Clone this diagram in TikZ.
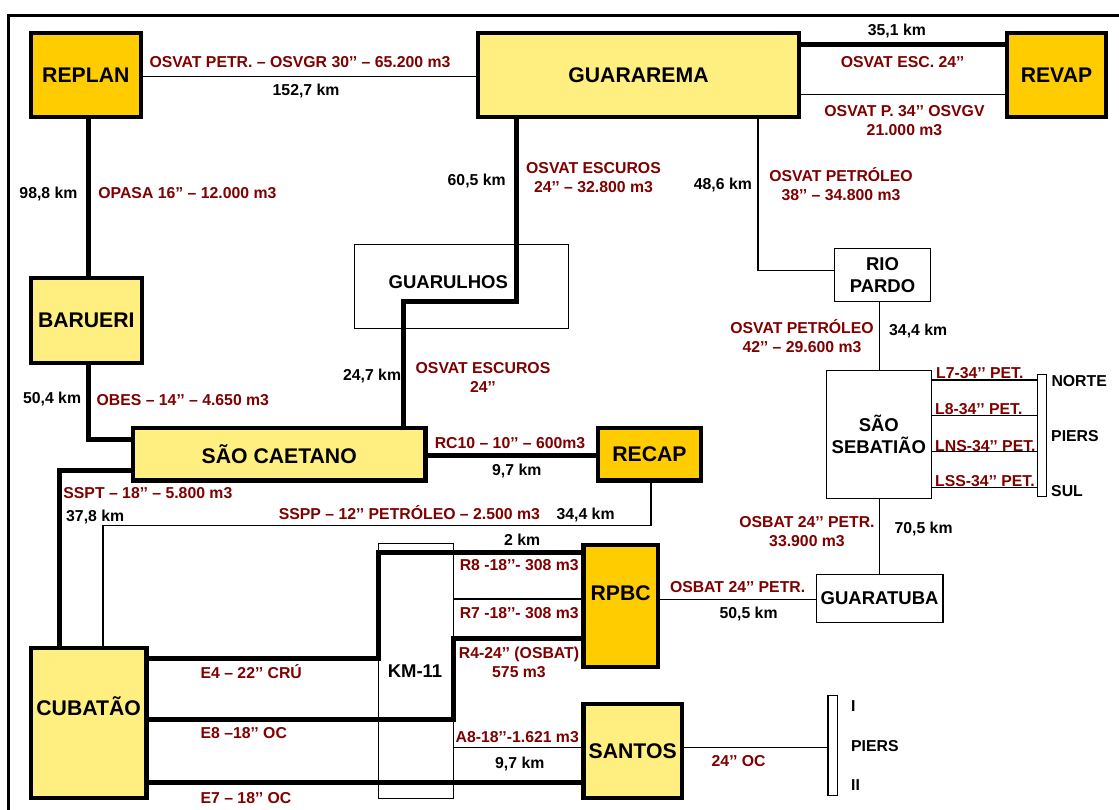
\documentclass[tikz,border=0pt]{standalone}
\usepackage{fontspec}
\setmainfont{Liberation Sans}
\definecolor{lab}{HTML}{800000}
\definecolor{oran}{HTML}{FFCC00}
\definecolor{yell}{HTML}{FFEF80}
\newcommand\bx[8]{\node[#2,line width=#3pt,minimum width={#6-#4-#3},minimum height={#7-#5-#3}] (#1) at ({(#4+#6)/2},{(#5+#7)/2}) {#8};}
\newcommand\shifted[3]{\smash{\raisebox{#2pt}{\makebox[0pt]{\hspace*{#1pt}#3}}}}
\newcommand\rl[3]{\node[redl] at (#1,#2) {#3};}
\newcommand\kl[3]{\node[kml] at (#1,#2) {#3};}
\tikzset{
  stn/.style={draw=black,inner sep=0pt,outer sep=0pt,align=center,text=black,font=\bfseries\fontsize{21.2}{24}\selectfont},
  refy/.style={stn,fill=oran},
  depo/.style={stn,fill=yell},
  term/.style={stn,fill=white,font=\bfseries\fontsize{18.5}{21.7}\selectfont},
  open/.style={stn,font=\bfseries\fontsize{18.5}{21.7}\selectfont},
  pier/.style={stn,fill=white},
  redl/.style={anchor=base west,inner sep=0pt,text=lab,font=\bfseries\fontsize{15.8}{19}\selectfont},
  kml/.style={anchor=base west,inner sep=0pt,text=black,font=\bfseries\fontsize{15.8}{19}\selectfont},
  redm/.style={anchor=center,inner sep=0pt,align=center,text=lab,font=\bfseries\fontsize{15.8}{19}\selectfont},
  thick pipe/.style={draw=black,line width=5pt,miter limit=10},
  thin pipe/.style={draw=black,line width=1.3pt},
}
\begin{document}
\begin{tikzpicture}[x=1pt,y=-1pt]
\fill[white] (0,0) rectangle (1119,810);
\useasboundingbox (0,0) rectangle (1119,810);
% frame
\draw[line width=3.5pt,black] (8.7,810) -- (8.7,15.5) -- (1119,15.5);
% stations
\bx{replan}{refy}{4.3}{28.6}{30.7}{143}{119}{REPLAN}
\bx{guar}{depo}{4.3}{476}{30.7}{801}{119}{GUARAREMA}
\bx{revap}{refy}{4.3}{1005}{30.7}{1108}{119}{REVAP}
\bx{barueri}{depo}{4.3}{28.6}{276}{144}{365}{BARUERI}
\bx{guarul}{open}{1}{354}{244}{568.5}{329}{\shifted{-26}{-2}{GUARULHOS}}
\bx{rio}{term}{1.2}{834}{248}{931}{302}{RIO\\PARDO}
\bx{scaet}{depo}{4.3}{131}{426}{427.5}{482.7}{SÃO CAETANO}
\bx{recap}{refy}{4.3}{596}{426}{703}{482.7}{RECAP}
\bx{sseb}{term}{1.2}{825.6}{370}{932}{499}{SÃO\\SEBATIÃO}
\bx{pn}{pier}{1.2}{1036.6}{374}{1047}{496.7}{}
\bx{gtuba}{term}{1.2}{815.6}{574}{943.6}{623}{GUARATUBA}
\bx{rpbc}{refy}{4.3}{581.4}{542.7}{660}{669}{\shifted{0}{5}{RPBC}}
\bx{santos}{depo}{4.3}{581.4}{702}{684}{800}{SANTOS}
\bx{cub}{depo}{4.3}{28.6}{645.7}{148.6}{800}{\shifted{0}{7}{CUBATÃO}}
\bx{km}{open}{1}{378}{542.7}{454}{798.7}{\shifted{0}{0}{\raisebox{0pt}{}}}
\bx{ps}{pier}{1.2}{827.4}{694.7}{838.4}{795.7}{}
\node[anchor=center,inner sep=0pt,font=\bfseries\fontsize{18.5}{21}\selectfont] (kmt) at (415,670.7) {KM-11};
% thin pipes
\draw[thin pipe] (replan.east |- 0,76.3) -- (guar.west |- 0,76.3);
\draw[thin pipe] (guar.east |- 0,94.3) -- (revap.west |- 0,94.3);
\draw[thin pipe] (guar.south -| 758,0) |- (rio.west |- 0,270.3);
\draw[thin pipe] (rio.south -| 879.4,0) -- (sseb.north -| 879.4,0);
\draw[thin pipe] (sseb.south -| 879.4,0) -- (gtuba.north -| 879.4,0);
\draw[thin pipe] (sseb.east |- 0,380) -- (pn.west |- 0,380);
\draw[thin pipe] (sseb.east |- 0,415.7) -- (pn.west |- 0,415.7);
\draw[thin pipe] (sseb.east |- 0,451.7) -- (pn.west |- 0,451.7);
\draw[thin pipe] (sseb.east |- 0,487.3) -- (pn.west |- 0,487.3);
\draw[thin pipe] (recap.south -| 651,0) -- (651,525.3) -| (cub.north -| 103,0);
\draw[thin pipe] (km.east |- 0,599) -- (rpbc.west |- 0,599);
\draw[thin pipe] (km.east |- 0,747.7) -- (santos.west |- 0,747.7);
\draw[thin pipe] (rpbc.east |- 0,599.3) -- (gtuba.west |- 0,599.3);
\draw[thin pipe] (santos.east |- 0,747.7) -- (ps.west |- 0,747.7);
% thick pipes
\draw[thick pipe] (replan.south -| 88,0) -- (barueri.north -| 88,0);
\draw[thick pipe] (guar.south -| 516,0) -- (516,301.7) -| (scaet.north -| 403.6,0);
\draw[thick pipe] (guar.east |- 0,44.3) -- (revap.west |- 0,44.3);
\draw[thick pipe] (barueri.south -| 88,0) |- (scaet.west |- 0,439.7);
\draw[thick pipe] (scaet.west |- 0,470.3) -| (cub.north -| 59.6,0);
\draw[thick pipe] (scaet.east |- 0,455.3) -- (recap.west |- 0,455.3);
\draw[thick pipe] (cub.east |- 0,658.3) -| (km.west |- 0,552) -- (rpbc.west |- 0,552);
\draw[thick pipe] (cub.east |- 0,719.3) -| (km.east |- 0,638.3) -- (rpbc.west |- 0,638.3);
\draw[thick pipe] (cub.east |- 0,782.3) -- (santos.west |- 0,782.3);
% labels
\rl{149.3}{68}{OSVAT PETR. – OSVGR 30’’ – 65.200 m3}
\kl{272.5}{96}{152,7 km}
\kl{19.3}{198.7}{98,8 km}
\rl{98.2}{198.7}{OPASA 16” – 12.000 m3}
\kl{447.5}{185.3}{60,5 km}
\node[redm] at (593.5,178) {OSVAT ESCUROS\\24’’ – 32.800 m3};
\kl{342.9}{380.3}{24,7 km}
\node[redm] at (483,377) {OSVAT ESCUROS\\24’’};
\kl{22.9}{403}{50,4 km}
\rl{96.4}{405.6}{OBES – 14’’ – 4.650 m3}
\kl{867.7}{36}{35,1 km}
\rl{840.6}{68}{OSVAT ESC. 24’’}
\node[redm] at (904.5,120.5) {OSVAT P. 34’’ OSVGV\\21.000 m3};
\kl{693.7}{189.3}{48,6 km}
\node[redm] at (841,184) {OSVAT PETRÓLEO\\38’’ – 34.800 m3};
\kl{889}{335.3}{34,4 km}
\node[redm] at (802,336.5) {OSVAT PETRÓLEO\\42’’ – 29.600 m3};
\rl{936}{378.3}{L7-34’’ PET.}
\kl{1051.3}{386}{NORTE}
\rl{434.6}{448.3}{RC10 – 10’’ – 600m3}
\kl{492}{475.3}{9,7 km}
\rl{63.2}{498}{SSPT – 18’’ – 5.800 m3}
\kl{66}{521}{37,8 km}
\rl{278.6}{519}{SSPP – 12’’ PETRÓLEO – 2.500 m3}
\kl{556.4}{519}{34,4 km}
\kl{504}{545}{2 km}
\rl{459.6}{570}{R8 -18’’- 308 m3}
\rl{459.6}{618}{R7 -18’’- 308 m3}
\node[redm] at (519,662) {R4-24’’ (OSBAT)\\575 m3};
\rl{455.4}{742.3}{A8-18’’-1.621 m3}
\kl{495}{768}{9,7 km}
\rl{200.4}{678}{E4 – 22’’ CRÚ}
\rl{200.4}{738}{E8 –18’’ OC}
\rl{200.4}{803}{E7 – 18’’ OC}
\rl{935}{414.3}{L8-34’’ PET.}
\kl{1051}{441}{PIERS}
\rl{935}{451}{LNS-34’’ PET.}
\rl{935}{486}{LSS-34’’ PET.}
\kl{1051}{496}{SUL}
\node[redm] at (807,531.5) {OSBAT 24’’ PETR.\\33.900 m3};
\kl{894.4}{533.3}{70,5 km}
\rl{669.8}{592}{OSBAT 24’’ PETR.}
\kl{719.4}{618.3}{50,5 km}
\rl{711.5}{766}{24’’ OC}
\kl{851}{711}{I}
\kl{851}{751}{PIERS}
\kl{851}{790}{II}
\end{tikzpicture}
\end{document}
